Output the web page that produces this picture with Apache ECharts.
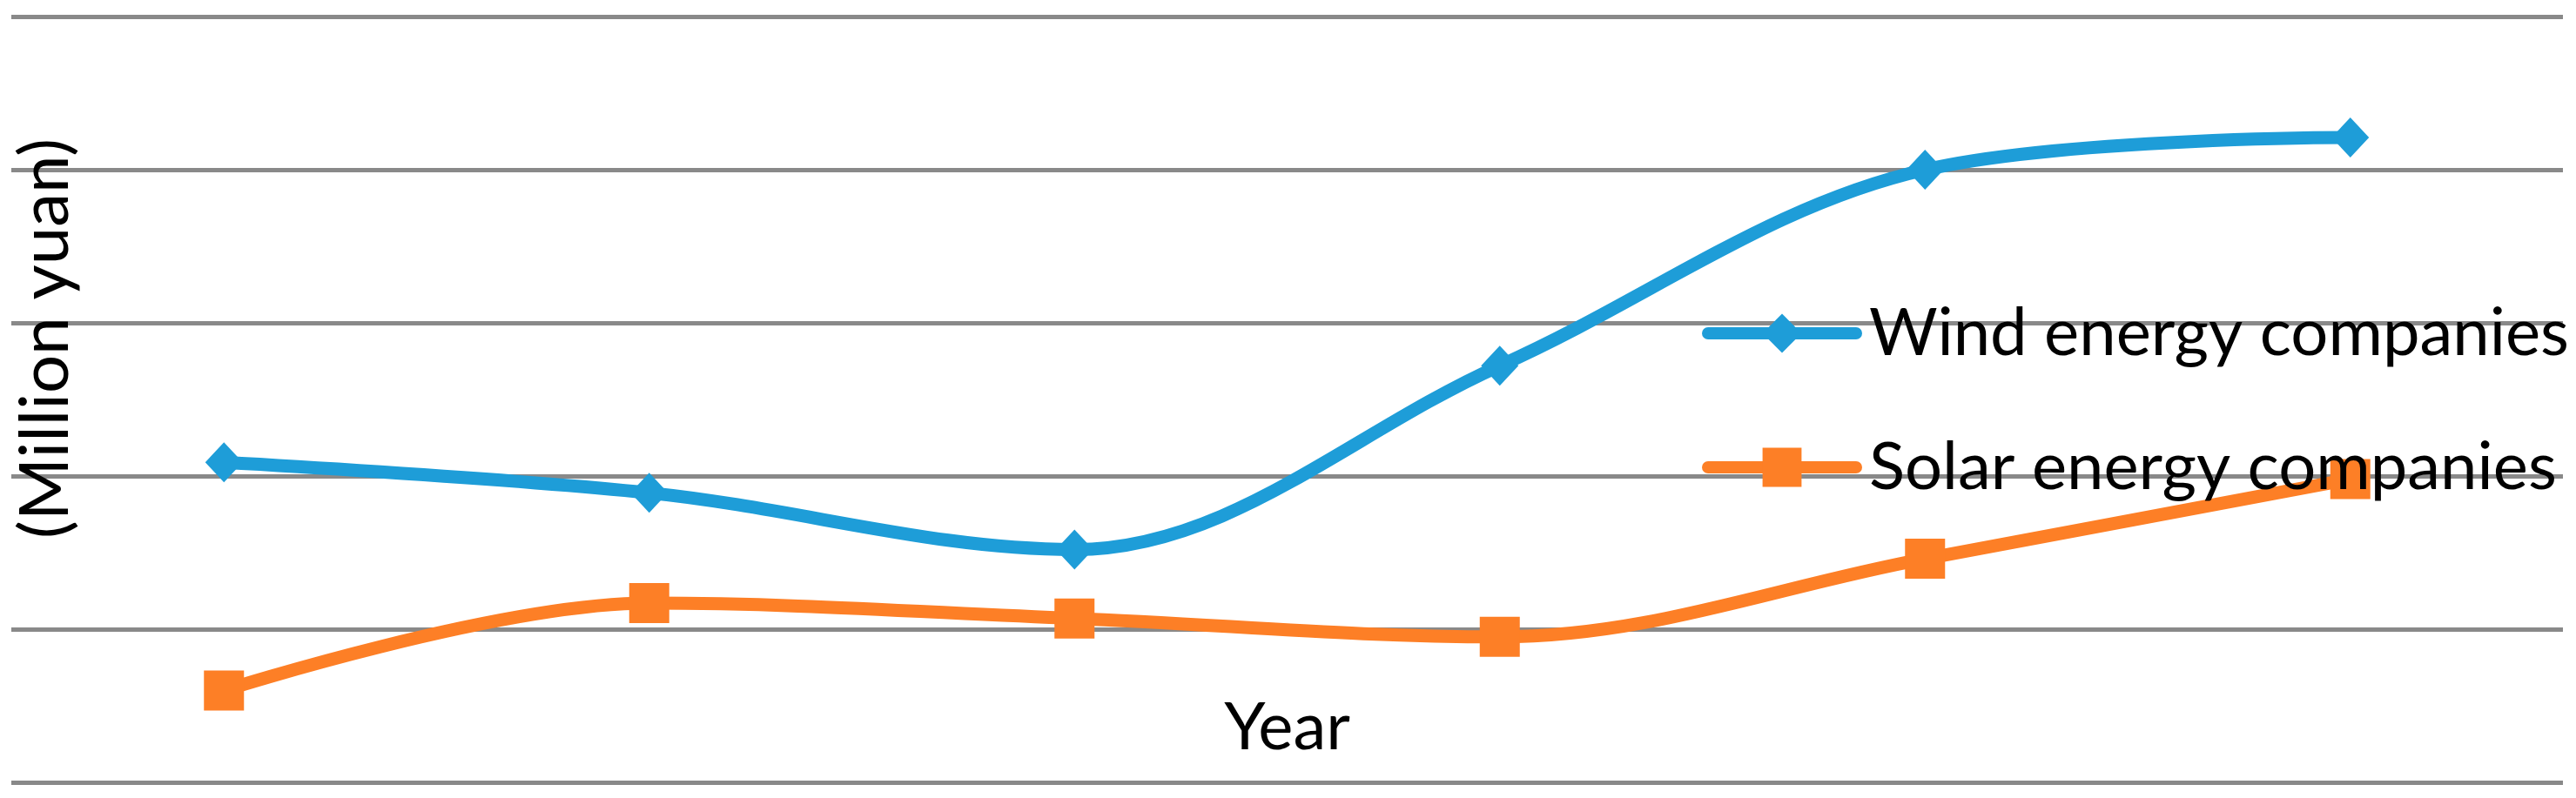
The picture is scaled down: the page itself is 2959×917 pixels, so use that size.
<!DOCTYPE html>
<html>
<head>
<meta charset="utf-8">
<script src="https://cdn.jsdelivr.net/npm/echarts@6/dist/echarts.min.js"></script>
<style>
html,body{margin:0;padding:0;background:#fff;}
#chart{width:2959px;height:917px;}
</style>
</head>
<body>
<div id="chart"></div>
<script>
// Data (y axis has no labels; values in grid units)
const categories = ['1', '2', '3', '4', '5', '6'];
const windValues = [2.09, 1.89, 1.52, 2.72, 4.00, 4.21];
const solarValues = [0.60, 1.17, 1.07, 0.95, 1.46, 1.98];
const seriesNames = ['Wind energy companies', 'Solar energy companies'];
const xTitle = 'Year';
const yTitle = '(Million yuan)';

const FONT = 'Lato';
const BLUE = '#1E9DD8';
const ORANGE = '#FD7F26';
const chart = echarts.init(document.getElementById('chart'), null, {renderer: 'canvas'});
chart.setOption({
  backgroundColor: '#ffffff',
  animation: false,
  grid: {left: 13, right: 15, top: 19, bottom: 18},
  xAxis: {
    type: 'category',
    data: categories,
    boundaryGap: true,
    axisLine: {show: false},
    axisTick: {show: false},
    axisLabel: {show: false},
    splitLine: {show: false},
    name: xTitle,
    nameLocation: 'middle',
    nameGap: -63,
    nameTextStyle: {fontFamily: FONT, fontSize: 76, color: '#000', verticalAlign: 'middle'}
  },
  yAxis: {
    type: 'value',
    min: 0, max: 5, interval: 1,
    axisLine: {show: false},
    axisTick: {show: false},
    axisLabel: {show: false},
    splitLine: {show: true, lineStyle: {color: '#898989', width: 5}},
    name: yTitle,
    nameLocation: 'middle',
    nameRotate: 90,
    nameGap: -40,
    nameTextStyle: {fontFamily: FONT, fontSize: 78, color: '#000', verticalAlign: 'middle', padding: [0, 0, 0, 140]}
  },
  legend: {
    orient: 'vertical',
    left: 1955,
    top: 345,
    padding: 0,
    itemWidth: 170,
    itemHeight: 56,
    itemGap: 78,
    lineStyle: {width: 14, cap: 'round'},
    textStyle: {fontFamily: FONT, fontSize: 76, color: '#000', padding: [0, 0, 0, 10]},
    data: seriesNames
  },
  series: [
    {
      name: seriesNames[0],
      type: 'line',
      data: windValues,
      smooth: 0.35,
      symbol: 'diamond',
      symbolSize: [43, 46],
      lineStyle: {color: BLUE, width: 15},
      itemStyle: {color: BLUE},
      emphasis: {disabled: true},
      z: 3
    },
    {
      name: seriesNames[1],
      type: 'line',
      data: solarValues,
      smooth: 0.35,
      symbol: 'rect',
      symbolSize: 46,
      lineStyle: {color: ORANGE, width: 15},
      itemStyle: {color: ORANGE},
      emphasis: {disabled: true},
      z: 3
    }
  ]
});
</script>
</body>
</html>
